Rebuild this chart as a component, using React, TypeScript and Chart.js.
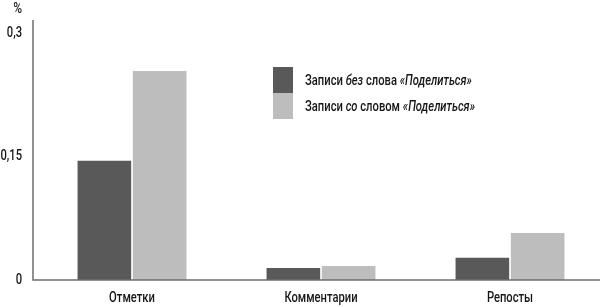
import React, { useEffect, useRef } from "react";
import { Chart, registerables } from "chart.js";

Chart.register(...registerables);

const categories = ["Отметки", "Комментарии", "Репосты"];
const seriesWithout = [0.145, 0.0145, 0.027];
const seriesWith = [0.254, 0.017, 0.057];
const yTicks = [0, 0.15, 0.3];
const yTickLabels = ["0", "0,15", "0,3"];
const legendParts: { text: string; italic: boolean }[][] = [
  [
    { text: "Записи ", italic: false },
    { text: "без", italic: true },
    { text: " слова ", italic: false },
    { text: "«Поделиться»", italic: true },
  ],
  [
    { text: "Записи ", italic: false },
    { text: "со", italic: true },
    { text: " словом ", italic: false },
    { text: "«Поделиться»", italic: true },
  ],
];
const unitLabel = "%";

const FONT = "Roboto, 'DejaVu Sans', sans-serif";
const SX = 0.8; // horizontal condensing of text
const DARK = "#595959";
const LIGHT = "#bdbdbd";
const TEXT = "#161616";
const AXIS = "#6e6e6e";

type Part = { text: string; italic: boolean };

function drawParts(
  ctx: CanvasRenderingContext2D,
  parts: Part[],
  x: number,
  y: number,
  align: "left" | "center" | "right",
  size = 14
) {
  ctx.save();
  ctx.fillStyle = TEXT;
  ctx.textBaseline = "middle";
  ctx.textAlign = "left";
  let total = 0;
  parts.forEach((p) => {
    ctx.font = `${p.italic ? "italic " : ""}500 ${size}px ${FONT}`;
    total += ctx.measureText(p.text).width;
  });
  let start = 0;
  if (align === "center") start = -total / 2;
  if (align === "right") start = -total;
  ctx.translate(x, y);
  ctx.scale(SX, 1);
  let cx = start;
  parts.forEach((p) => {
    ctx.font = `${p.italic ? "italic " : ""}500 ${size}px ${FONT}`;
    ctx.fillText(p.text, cx, 0);
    cx += ctx.measureText(p.text).width;
  });
  ctx.restore();
}

const overlayPlugin = {
  id: "overlay",
  afterLayout(chart: any) {
    const x = chart.scales.x;
    x.left = chart.chartArea.left + 4.5;
    x.right = chart.chartArea.right + 4.5;
    x.width = x.right - x.left;
    x.configure();
  },
  afterDraw(chart: any) {
    const ctx = chart.ctx as CanvasRenderingContext2D;
    const ca = chart.chartArea;
    const xs = chart.scales.x;
    const ys = chart.scales.y;
    ctx.save();
    // axes
    ctx.strokeStyle = AXIS;
    ctx.lineWidth = 1.5;
    ctx.beginPath();
    ctx.moveTo(ca.left, ca.top);
    ctx.lineTo(ca.left, ca.bottom);
    ctx.lineTo(chart.width, ca.bottom);
    ctx.stroke();
    ctx.restore();
    // y tick labels
    yTicks.forEach((v, i) => {
      drawParts(ctx, [{ text: yTickLabels[i], italic: false }], ca.left - 11, ys.getPixelForValue(v), "right");
    });
    // unit label
    drawParts(ctx, [{ text: unitLabel, italic: false }], ca.left - 11, 9, "right", 15);
    // category labels
    categories.forEach((c, i) => {
      drawParts(ctx, [{ text: c, italic: false }], xs.getPixelForValue(i), ca.bottom + 18, "center");
    });
    // legend
    const colors = [DARK, LIGHT];
    const boxX = ca.left + 240;
    const boxY = 67;
    const boxW = 20;
    const boxH = 26;
    legendParts.forEach((parts, i) => {
      ctx.fillStyle = colors[i];
      ctx.fillRect(boxX, boxY + i * boxH, boxW, boxH);
      drawParts(ctx, parts, boxX + boxW + 12, boxY + i * boxH + boxH / 2 + 1, "left");
    });
  },
};

export default function App() {
  const ref = useRef<HTMLCanvasElement>(null);
  useEffect(() => {
    document.body.style.margin = "0";
    const chart = new Chart(ref.current!, {
      type: "bar",
      data: {
        labels: categories,
        datasets: [
          {
            label: "Записи без слова «Поделиться»",
            data: seriesWithout,
            backgroundColor: DARK,
            categoryPercentage: 0.585,
            barPercentage: 0.97,
          },
          {
            label: "Записи со словом «Поделиться»",
            data: seriesWith,
            backgroundColor: LIGHT,
            categoryPercentage: 0.585,
            barPercentage: 0.97,
          },
        ],
      },
      options: {
        animation: false,
        responsive: false,
        layout: { padding: { top: 20, right: 0, left: 0, bottom: 0 } },
        plugins: { legend: { display: false }, tooltip: { enabled: false } },
        scales: {
          x: {
            grid: { display: false, drawTicks: false },
            border: { display: false },
            ticks: { display: false },
            afterFit(scale: any) {
              scale.height = 27;
            },
          },
          y: {
            min: 0,
            max: 0.316,
            grid: { display: false, drawTicks: false },
            border: { display: false },
            afterBuildTicks(scale: any) {
              scale.ticks = yTicks.map((v) => ({ value: v }));
            },
            ticks: { display: false },
            afterFit(scale: any) {
              scale.width = 33;
            },
          },
        },
      },
      plugins: [overlayPlugin],
    });
    return () => chart.destroy();
  }, []);
  return <canvas ref={ref} width={600} height={307} style={{ display: "block" }} />;
}
